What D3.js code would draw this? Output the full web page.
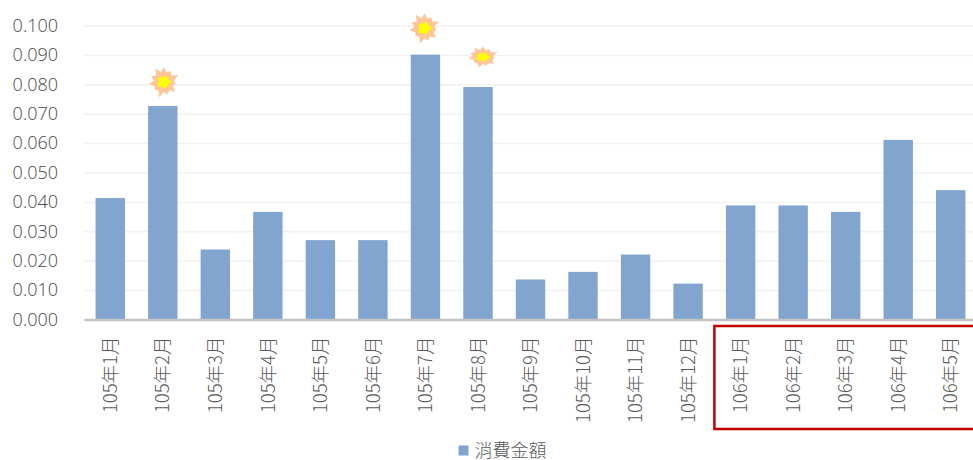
<!DOCTYPE html>
<html>
<head>
<meta charset="utf-8">
<script src="https://cdn.jsdelivr.net/npm/d3@7"></script>
<style>
body { margin: 0; background: #fff; overflow: hidden; }
text { font-family: "Noto Sans CJK TC", "Noto Sans", sans-serif; fill: #595959; }
</style>
</head>
<body>
<div id="chart-area"></div>
<script>
var months = ["105年1月", "105年2月", "105年3月", "105年4月", "105年5月", "105年6月",
    "105年7月", "105年8月", "105年9月", "105年10月", "105年11月", "105年12月",
    "106年1月", "106年2月", "106年3月", "106年4月", "106年5月"];
var amounts = [0.0413, 0.0726, 0.0238, 0.0366, 0.0270, 0.0270,
    0.0901, 0.0791, 0.0136, 0.0162, 0.0221, 0.0122,
    0.0388, 0.0388, 0.0366, 0.0611, 0.0440];
var yTicks = [0, 0.01, 0.02, 0.03, 0.04, 0.05, 0.06, 0.07, 0.08, 0.09, 0.1];
var seriesName = "消費金額";
// the hand-drawn bursts above the peak months
var burstMonths = ["105年2月", "105年7月", "105年8月"];
var burstLevels = [0.0808, 0.0991, 0.0893];
var burstShift = [1, -1, 5];
var burstStretch = [[1, 1], [1, 1], [1, 0.7]];
// the red box around the 106 months
var boxMonth = "106年1月";

var margin = { left: 84, right: -4, top: 25.5, bottom: 140.5 };
var width = 973 - margin.left - margin.right,
    height = 460 - margin.top - margin.bottom;

var svg = d3.select("#chart-area").append("svg")
    .attr("width", 973)
    .attr("height", 460)
    .style("display", "block");

var g = svg.append("g").attr("transform", "translate(" + margin.left + ", " + margin.top + ")");

var x = d3.scaleBand().domain(months).range([0, width]).paddingInner(0.44).paddingOuter(0.22);
var y = d3.scaleLinear().domain([0, 0.1]).range([height, 0]);

// Grid + Y axis
var leftAxis = d3.axisLeft(y).tickValues(yTicks).tickFormat(d3.format(".3f")).tickSize(0).tickPadding(26);
var yAxis = g.append("g").attr("class", "y axis").call(leftAxis);
yAxis.select(".domain").remove();
yAxis.selectAll("text")
    .attr("font-size", "18px")
    .attr("font-weight", 300)
    .style("font-family", "'Open Sans', sans-serif")
    .style("fill", "#484848");
yAxis.selectAll(".tick").filter((d) => { return d > 0; }).append("line")
    .attr("x2", width)
    .attr("stroke", "#f2f2f2")
    .attr("stroke-width", 1.5);

// Bars
g.selectAll("rect.bar")
    .data(months)
    .enter().append("rect")
    .attr("class", "bar")
    .attr("x", (d) => { return x(d); })
    .attr("y", (d, i) => { return y(amounts[i]); })
    .attr("width", x.bandwidth())
    .attr("height", (d, i) => { return height - y(amounts[i]); })
    .attr("fill", "#82a5d0");

// X axis
var bottomAxis = d3.axisBottom(x).tickSize(0);
var xAxis = g.append("g")
    .attr("class", "x axis")
    .attr("transform", "translate(0, " + height + ")")
    .call(bottomAxis);
xAxis.select(".domain").attr("stroke", "#c4c4c4").attr("stroke-width", 2.6);
xAxis.selectAll("text")
    .attr("font-size", "18.5px")
    .attr("font-weight", 300)
    .attr("text-anchor", "end")
    .attr("dy", "0.36em")
    .attr("transform", "translate(0, 17) rotate(-90)")
    .attr("x", 0)
    .attr("y", 0);

// Bursts
var burstRadii = [15, 10, 13, 10, 16, 10, 12, 10, 15, 10, 13, 10, 16, 10, 12, 10, 15, 10, 14, 10, 16, 10];
var burstLine = d3.lineRadial().curve(d3.curveLinearClosed)
    .angle((d, i) => { return i / burstRadii.length * 2 * Math.PI; })
    .radius((d) => { return d; });
var coreRadii = [7, 5, 8, 5, 7, 5, 8, 5, 7, 5];
var coreLine = d3.lineRadial().curve(d3.curveLinearClosed)
    .angle((d, i) => { return i / coreRadii.length * 2 * Math.PI + 0.3; })
    .radius((d) => { return d; });
var bursts = g.selectAll("g.burst")
    .data(burstMonths)
    .enter().append("g")
    .attr("class", "burst")
    .attr("transform", (d, i) => {
        return "translate(" + (x(d) + x.bandwidth() / 2 + burstShift[i]) + ", " + y(burstLevels[i]) + ") scale(" + burstStretch[i][0] + ", " + burstStretch[i][1] + ")";
    });
bursts.append("path")
    .attr("d", burstLine(burstRadii))
    .attr("fill", "#ffc596");
bursts.append("path")
    .attr("d", coreLine(coreRadii))
    .attr("fill", "#ffff00");

// Red box
g.append("rect")
    .attr("x", x(boxMonth) - 11.5)
    .attr("y", height + 6.5)
    .attr("width", width)
    .attr("height", 103)
    .attr("fill", "none")
    .attr("stroke", "#c00000")
    .attr("stroke-width", 2.5);

// Legend
var legend = g.append("g")
    .attr("transform", "translate(" + (width / 2 - 72) + ", " + (height + 126) + ")");
legend.append("rect")
    .attr("width", 10)
    .attr("height", 10)
    .attr("fill", "#82a5d0");
legend.append("text")
    .attr("x", 16)
    .attr("y", 11)
    .attr("font-size", "18px")
    .attr("font-weight", 300)
    .text(seriesName);
</script>
</body>
</html>
